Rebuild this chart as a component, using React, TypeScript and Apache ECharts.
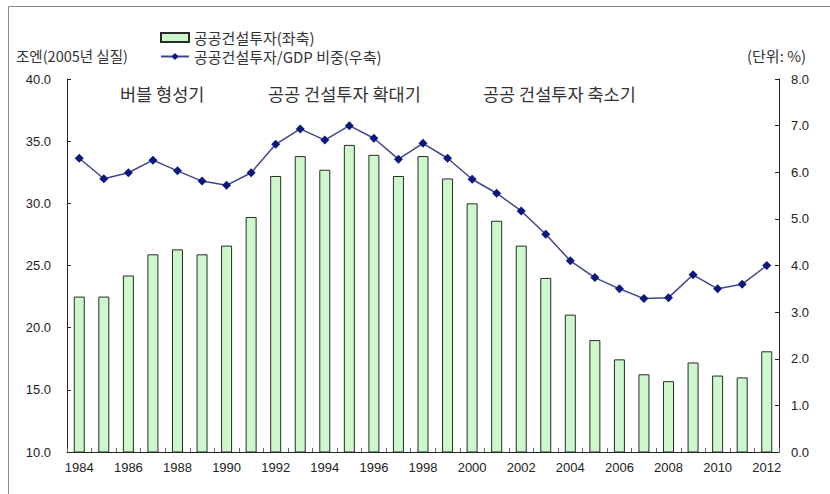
import React, { useEffect, useRef } from "react";
import * as echarts from "echarts";

const years = [
  "1984","1985","1986","1987","1988","1989","1990","1991","1992","1993",
  "1994","1995","1996","1997","1998","1999","2000","2001","2002","2003",
  "2004","2005","2006","2007","2008","2009","2010","2011","2012",
];
const investment = [
  22.5, 22.5, 24.2, 25.9, 26.3, 25.9, 26.6, 28.9, 32.2, 33.8,
  32.7, 34.7, 33.9, 32.2, 33.8, 32.0, 30.0, 28.6, 26.6, 24.0,
  21.05, 19.0, 17.45, 16.25, 15.7, 17.2, 16.15, 16.0, 18.1,
];
const gdpShare = [
  6.3, 5.86, 5.99, 6.26, 6.03, 5.81, 5.72, 5.99, 6.6, 6.93,
  6.69, 7.0, 6.73, 6.28, 6.62, 6.3, 5.85, 5.55, 5.17, 4.67,
  4.1, 3.74, 3.5, 3.29, 3.31, 3.8, 3.5, 3.6, 4.0,
];
const barName = "공공건설투자(좌축)";
const lineName = "공공건설투자/GDP 비중(우축)";
const leftUnit = "조엔(2005년 실질)";
const rightUnit = "(단위: %)";
const periods = ["버블 형성기", "공공 건설투자 확대기", "공공 건설투자 축소기"];

const FONT = "'Liberation Sans', 'Noto Sans CJK KR', sans-serif";
const KFONT = "'Noto Sans CJK KR', 'Liberation Sans', sans-serif";

export default function App() {
  const ref = useRef<HTMLDivElement>(null);
  useEffect(() => {
    if (!ref.current) return;
    const chart = echarts.init(ref.current, null, { renderer: "svg" });
    chart.setOption({
      animation: false,
      backgroundColor: "#ffffff",
      textStyle: { fontFamily: FONT },
      grid: { left: 67, right: 51, top: 79, bottom: 42, containLabel: false },
      legend: {
        left: 155,
        top: 25,
        orient: "vertical",
        itemGap: 4,
        itemWidth: 28,
        itemHeight: 9,
        textStyle: { fontSize: 15, color: "#333", fontFamily: KFONT },
        data: [
          { name: barName, icon: "rect" },
          { name: lineName },
        ],
      },
      xAxis: {
        type: "category",
        data: years,
        boundaryGap: true,
        axisLine: { lineStyle: { color: "#222", width: 1 } },
        axisTick: { show: true, inside: true, length: 4, interval: 0, lineStyle: { color: "#666" } },
        axisLabel: { interval: 1, fontSize: 13, color: "#222", margin: 9, fontFamily: FONT },
      },
      yAxis: [
        {
          type: "value",
          min: 10,
          max: 40,
          interval: 5,
          splitLine: { show: false },
          axisLine: { show: true, lineStyle: { color: "#222" } },
          axisTick: { show: true, inside: true, length: 4, lineStyle: { color: "#222" } },
          axisLabel: {
            fontSize: 13,
            color: "#222",
            margin: 16,
            fontFamily: FONT,
            formatter: (v: number) => v.toFixed(1),
          },
        },
        {
          type: "value",
          min: 0,
          max: 8,
          interval: 1,
          splitLine: { show: false },
          axisLine: { show: true, lineStyle: { color: "#222" } },
          axisTick: { show: true, inside: true, length: 4, lineStyle: { color: "#222" } },
          axisLabel: {
            fontSize: 13,
            color: "#222",
            margin: 12,
            fontFamily: FONT,
            formatter: (v: number) => v.toFixed(1),
          },
        },
      ],
      series: [
        {
          name: barName,
          type: "bar",
          yAxisIndex: 0,
          data: investment,
          barWidth: 11,
          itemStyle: { color: "#ccf8cc", borderColor: "#2a2a2a", borderWidth: 1 },
        },
        {
          name: lineName,
          type: "line",
          yAxisIndex: 1,
          data: gdpShare,
          symbol: "diamond",
          symbolSize: 9,
          lineStyle: { color: "#40458f", width: 1.5 },
          itemStyle: { color: "#0a1a7a" },
        },
      ],
      graphic: [
        {
          type: "rect",
          shape: { x: 8.5, y: 6.5, width: 840, height: 500 },
          style: { fill: "none", stroke: "#8a8a8a", lineWidth: 1 },
          silent: true,
        },
        {
          type: "text",
          left: 16,
          top: 48,
          style: { text: leftUnit, fontSize: 14.5, fill: "#333", fontFamily: KFONT },
        },
        {
          type: "text",
          left: 747,
          top: 48,
          style: { text: rightUnit, fontSize: 15, fill: "#333", fontFamily: KFONT },
        },
        {
          type: "text",
          left: 120,
          top: 85,
          style: { text: periods[0], fontSize: 17.5, fill: "#333", fontFamily: KFONT },
        },
        {
          type: "text",
          left: 268,
          top: 85,
          style: { text: periods[1], fontSize: 17.5, fill: "#333", fontFamily: KFONT },
        },
        {
          type: "text",
          left: 483,
          top: 85,
          style: { text: periods[2], fontSize: 17.5, fill: "#333", fontFamily: KFONT },
        },
      ],
    });
    return () => chart.dispose();
  }, []);
  return (
    <div
      ref={ref}
      style={{ position: "absolute", left: 0, top: 0, width: 830, height: 494 }}
    />
  );
}
